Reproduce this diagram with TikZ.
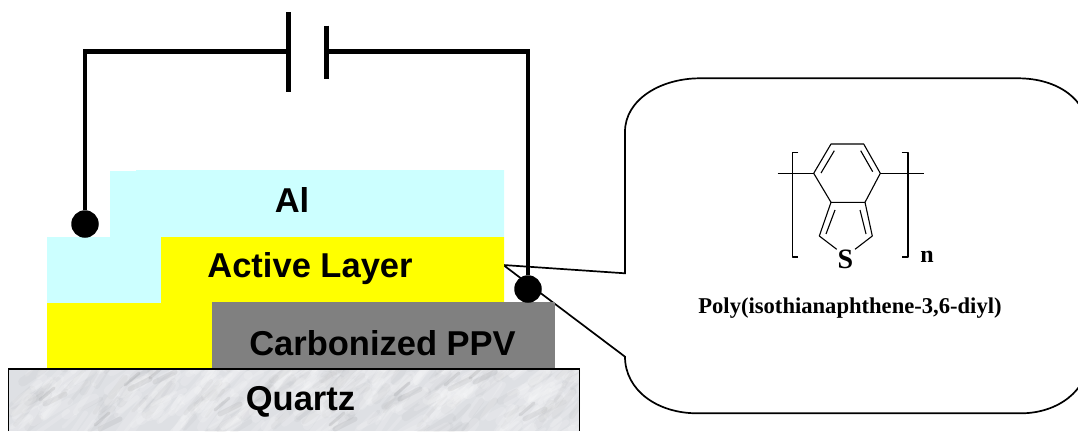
\documentclass[tikz,border=0pt]{standalone}
\usepackage{fontspec}
\setmainfont{Liberation Sans}
\newfontfamily\chemfont{Liberation Serif}
\definecolor{alblue}{RGB}{204,255,255}
\definecolor{layeryellow}{RGB}{255,255,0}
\definecolor{ppvgray}{RGB}{128,128,128}
\definecolor{quartzbase}{RGB}{222,224,228}
\tikzset{
  layerlabel/.style={anchor=base, inner sep=0pt, font=\fontsize{34.5}{34.5}\selectfont\bfseries},
  chemlabel/.style={anchor=base, inner sep=0pt, font=\chemfont\bfseries\fontsize{#1}{#1}\selectfont},
  wire/.style={line width=4.5pt},
  contact/.style={circle, fill=black, inner sep=0pt, minimum size=27.5pt},
  bond/.style={line width=1.1pt, line join=round}
}
\begin{document}
\begin{tikzpicture}[x=1pt,y=-1pt]
  \useasboundingbox (0,0) rectangle (1078,431);
  \clip (0,0) rectangle (1078,431);

  % Globo
  \draw[line width=1.7pt, fill=white] (503.3,265) -- (625,273.3) -- (625,131.7)
    .. controls (625,100) and (660,78.3) .. (700,78.3) -- (1018,78.3)
    .. controls (1058,78.3) and (1088,100) .. (1088,131.7) -- (1088,360)
    .. controls (1088,390) and (1058,413.3) .. (1021,413.3) -- (697,413.3)
    .. controls (657,413.3) and (625,390) .. (625,356.7) -- cycle;

  % Capas
  \fill[alblue] (110,171) -- (136,171) -- (136,170) -- (504,170) -- (504,237) -- (161,237)
    -- (161,303) -- (47,303) -- (47,237) -- (110,237) -- cycle;
  \fill[layeryellow] (161,237) -- (504,237) -- (504,302) -- (212,302) -- (212,368) -- (47,368)
    -- (47,303) -- (161,303) -- cycle;
  \fill[ppvgray] (212,302) rectangle (555,368);

  % Cuarzo
  \begin{scope}
    \clip (8,368) rectangle (580,431);
    \fill[quartzbase] (8,368) rectangle (580,431);
    \pgfmathsetseed{11}
    \foreach \i in {1,...,420} {
      \pgfmathsetmacro{\px}{8+572*rnd}
      \pgfmathsetmacro{\py}{368+72*rnd}
      \pgfmathsetmacro{\len}{14+30*rnd}
      \pgfmathsetmacro{\ang}{25+35*rnd}
      \pgfmathsetmacro{\wd}{3+7*rnd}
      \pgfmathsetmacro{\tone}{rnd>0.3 ? 1 : 0}
      \ifdim\tone pt>0.5pt
        \draw[white, opacity=0.16, line width=\wd pt, line cap=round] (\px,\py) -- ++({\len*cos(\ang)},{-\len*sin(\ang)});
      \else
        \draw[black!50, opacity=0.06, line width=\wd pt, line cap=round] (\px,\py) -- ++({\len*cos(\ang)},{-\len*sin(\ang)});
      \fi
    }
    % Vetas oscuras
    \foreach \vx/\vy in {125/385,150/378,215/410,330/425,445/385,470/378,40/400,520/415,95/425,395/395} {
      \draw[black!60, opacity=0.14, line width=3pt, line cap=round] (\vx,\vy) -- ++(14,-12);
      \draw[black!60, opacity=0.10, line width=5pt, line cap=round] (\vx+5,\vy+4) -- ++(20,-10);
    }
  \end{scope}
  \draw[line width=1.7pt] (8.5,431) -- (8.5,369) -- (579.5,369) -- (579.5,431);

  % Etiquetas de capas
  \node[layerlabel] (al) at (292,212) {Al};
  \node[layerlabel] (active) at (310,277.5) {Active Layer};
  \node[layerlabel] (ppv) at (382.5,355) {Carbonized PPV};
  \node[layerlabel] (quartz) at (300.5,410) {Quartz};

  % Circuito
  \node[contact] (contactL) at (85,224) {};
  \node[contact] (contactR) at (528,289) {};
  \coordinate (plateL) at (288,51.7);
  \coordinate (plateR) at (326,51.7);
  \draw[wire] (contactL) |- (plateL);
  \draw[wire] (plateR) -| (contactR);
  \draw[line width=5pt] (288,12.3) -- (288,91.7);
  \draw[line width=5pt] (326,25.7) -- (326,78.7);

  % Molecula
  \draw[bond] (813.7,173.3) -- (831,144) -- (863.7,144) -- (880.3,173.3) -- (865,202.3) -- (831,202.3) -- cycle;
  \draw[bond] (834.3,150.7) -- (821,173);
  \draw[bond] (860.7,150.7) -- (872.7,171.7);
  \draw[bond] (836.7,249.3) -- (819.3,236) -- (831,202.3);
  \draw[bond] (855,249.3) -- (872.3,236) -- (865,202.3);
  \draw[bond] (835,210) -- (826,234);
  \draw[bond] (860,210) -- (866,234);
  \draw[bond] (777.7,173.3) -- (813.7,173.3);
  \draw[bond] (880.3,173.3) -- (924,173.3);
  \draw[bond] (798.3,152.3) -- (792.7,152.3) -- (792.7,257) -- (798.3,257);
  \draw[bond] (901.7,152.3) -- (908,152.3) -- (908,257) -- (901.7,257);
  \node[chemlabel=28] (sulfur) at (845.3,268) {S};
  \node[chemlabel=24] (repeat) at (927,262) {n};
  \node[chemlabel=22.6] (polyname) at (850,313) {Poly(isothianaphthene-3,6-diyl)};
\end{tikzpicture}
\end{document}
